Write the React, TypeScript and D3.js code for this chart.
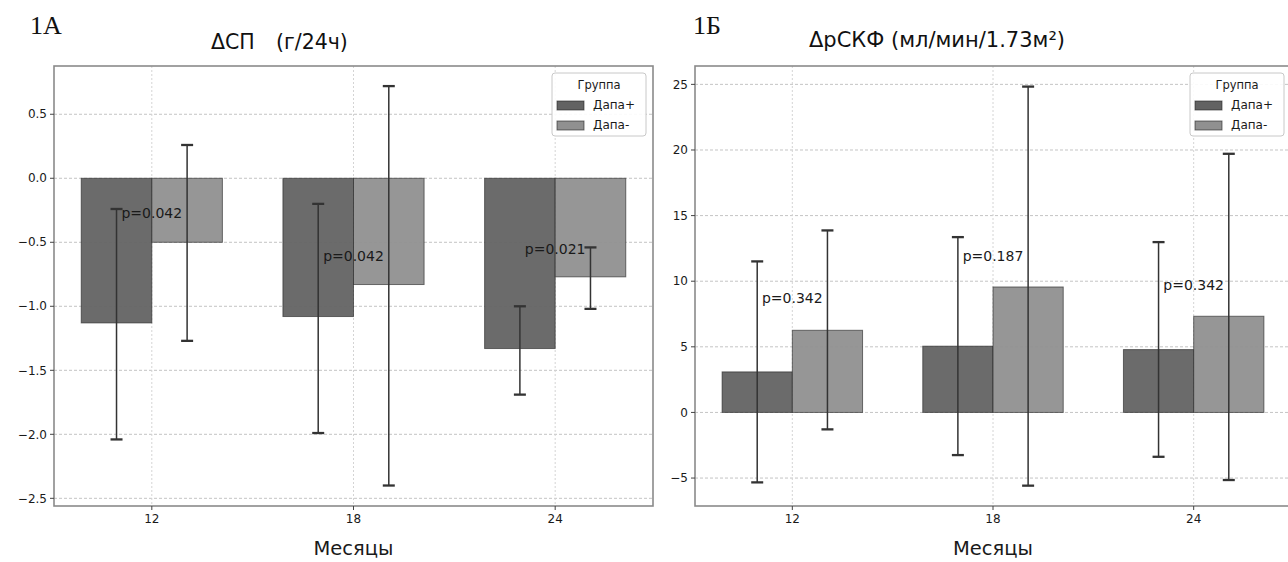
import React from "react";
import * as d3 from "d3";

// ---------- data ----------
const months = ["12", "18", "24"];
const groups = ["Дапа+", "Дапа-"];

// Panel A: ΔСП (г/24ч)
const spPlus = [-1.13, -1.08, -1.33];
const spPlusLow = [-2.04, -1.99, -1.69];
const spPlusHigh = [-0.24, -0.2, -1.0];
const spMinus = [-0.5, -0.83, -0.77];
const spMinusLow = [-1.27, -2.4, -1.02];
const spMinusHigh = [0.26, 0.72, -0.54];
const spPLabels = ["p=0.042", "p=0.042", "p=0.021"];
const spPLabelY = [-0.27, -0.61, -0.55];
const spTicks = [0.5, 0.0, -0.5, -1.0, -1.5, -2.0, -2.5];

// Panel B: ΔрСКФ (мл/мин/1.73м²)
const gfrPlus = [3.09, 5.05, 4.79];
const gfrPlusLow = [-5.33, -3.25, -3.38];
const gfrPlusHigh = [11.51, 13.36, 12.98];
const gfrMinus = [6.26, 9.56, 7.33];
const gfrMinusLow = [-1.29, -5.58, -5.15];
const gfrMinusHigh = [13.87, 24.83, 19.71];
const gfrPLabels = ["p=0.342", "p=0.187", "p=0.342"];
const gfrPLabelY = [8.68, 11.9, 9.69];
const gfrTicks = [25, 20, 15, 10, 5, 0, -5];

const FONT = "DejaVu Sans, Noto Sans, sans-serif";
const C_PLUS = "#636363";
const C_MINUS = "#909090";

type PanelProps = {
  x0: number;
  x1: number;
  yDomain: [number, number];
  ticks: number[];
  tickFmt: (v: number) => string;
  plus: number[];
  plusLow: number[];
  plusHigh: number[];
  minus: number[];
  minusLow: number[];
  minusHigh: number[];
  pLabels: string[];
  pY: number[];
  legendX: number;
};

const TOP = 66;
const BOTTOM = 506;
const BW = 0.35;

function Panel(p: PanelProps) {
  const x = d3.scaleLinear().domain([-0.485, 2.485]).range([p.x0, p.x1]);
  const y = d3.scaleLinear().domain(p.yDomain).range([BOTTOM, TOP]);
  const cx = (i: number) => x(i);
  const y0 = y(0);
  const bars = [
    { vals: p.plus, lo: p.plusLow, hi: p.plusHigh, off: -BW / 2, color: C_PLUS },
    { vals: p.minus, lo: p.minusLow, hi: p.minusHigh, off: BW / 2, color: C_MINUS },
  ];
  const bw = x(BW) - x(0);
  return (
    <g>
      {/* grid */}
      {p.ticks.map((t) => (
        <line key={"gy" + t} x1={p.x0} x2={p.x1} y1={y(t)} y2={y(t)} stroke="#c4c4c4" strokeWidth={1} strokeDasharray="3,2" />
      ))}
      {months.map((m, i) => (
        <line key={"gx" + m} x1={cx(i)} x2={cx(i)} y1={TOP} y2={BOTTOM} stroke="#d4d4d4" strokeWidth={1} strokeDasharray="2,2" />
      ))}
      {/* bars */}
      {bars.map((b, bi) =>
        b.vals.map((v, i) => {
          const xc = x(i + b.off);
          return (
            <rect
              key={"b" + bi + i}
              x={xc - bw / 2}
              y={Math.min(y(v), y0)}
              width={bw}
              height={Math.abs(y(v) - y0)}
              fill={b.color}
              fillOpacity={0.95}
              stroke="#222"
              strokeOpacity={0.6}
              strokeWidth={1}
            />
          );
        })
      )}
      {/* error bars */}
      {bars.map((b, bi) =>
        b.vals.map((v, i) => {
          const xc = x(i + b.off);
          return (
            <g key={"e" + bi + i} stroke="#333">
              <line x1={xc} x2={xc} y1={y(b.lo[i])} y2={y(b.hi[i])} strokeWidth={1.5} />
              <line x1={xc - 6} x2={xc + 6} y1={y(b.lo[i])} y2={y(b.lo[i])} strokeWidth={2.3} />
              <line x1={xc - 6} x2={xc + 6} y1={y(b.hi[i])} y2={y(b.hi[i])} strokeWidth={2.3} />
            </g>
          );
        })
      )}
      {/* p labels */}
      {p.pLabels.map((t, i) => (
        <text key={"p" + i} x={cx(i)} y={y(p.pY[i])} dy="0.35em" textAnchor="middle" fontFamily={FONT} fontSize={14} fill="#1a1a1a">
          {t}
        </text>
      ))}
      {/* frame */}
      <rect x={p.x0} y={TOP} width={p.x1 - p.x0} height={BOTTOM - TOP} fill="none" stroke="#8a8a8a" strokeWidth={1.6} />
      {/* y ticks */}
      {p.ticks.map((t) => (
        <g key={"ty" + t}>
          <line x1={p.x0 - 4} x2={p.x0} y1={y(t)} y2={y(t)} stroke="#444" strokeWidth={1} />
          <text x={p.x0 - 7} y={y(t)} dy="0.35em" textAnchor="end" fontFamily={FONT} fontSize={12} fill="#1a1a1a">
            {p.tickFmt(t)}
          </text>
        </g>
      ))}
      {/* x ticks */}
      {months.map((m, i) => (
        <g key={"tx" + m}>
          <line x1={cx(i)} x2={cx(i)} y1={BOTTOM} y2={BOTTOM + 4} stroke="#444" strokeWidth={1} />
          <text x={cx(i)} y={519} dy="0.35em" textAnchor="middle" fontFamily={FONT} fontSize={12} fill="#1a1a1a">
            {m}
          </text>
        </g>
      ))}
      <text x={x(1)} y={555} textAnchor="middle" fontFamily={FONT} fontSize={19.5} fill="#1a1a1a">
        Месяцы
      </text>
      {/* legend */}
      <g transform={`translate(${p.legendX},73)`}>
        <rect x={0} y={0} width={94} height={63} rx={3} fill="white" fillOpacity={0.9} stroke="#c8c8c8" strokeWidth={1} />
        <text x={47} y={12} dy="0.35em" textAnchor="middle" fontFamily={FONT} fontSize={11.5} fill="#1a1a1a">
          Группа
        </text>
        {groups.map((g, i) => (
          <g key={g} transform={`translate(0,${32 + i * 20})`}>
            <rect x={5} y={-4} width={27} height={9} fill={i === 0 ? C_PLUS : C_MINUS} stroke="#222" strokeOpacity={0.6} strokeWidth={1} />
            <text x={41} y={0} dy="0.35em" fontFamily={FONT} fontSize={12} fill="#1a1a1a">
              {g}
            </text>
          </g>
        ))}
      </g>
    </g>
  );
}

const fmtA = (v: number) => d3.format(".1f")(v).replace("-", "−");
const fmtB = (v: number) => d3.format("d")(v).replace("-", "−");

export default function App() {
  return (
    <svg width={1288} height={562} style={{ position: "absolute", left: 0, top: 0, background: "white" }}>
      <rect width={1288} height={562} fill="white" />
      <text x={30} y={34} fontFamily="Liberation Serif, DejaVu Serif, serif" fontSize={26} fill="#111">
        1А
      </text>
      <text x={211} y={49} fontFamily={FONT} fontSize={20.5} fill="#111">
        ΔСП
      </text>
      <text x={276} y={49} fontFamily={FONT} fontSize={20.5} fill="#111">
        (г/24ч)
      </text>
      <text x={693} y={34} fontFamily="Liberation Serif, DejaVu Serif, serif" fontSize={26} fill="#111">
        1Б
      </text>
      <text x={937} y={47} textAnchor="middle" fontFamily={FONT} fontSize={21} fill="#111">
        ΔрСКФ (мл/мин/1.73м²)
      </text>
      <Panel
        x0={54}
        x1={653}
        yDomain={[-2.56, 0.877]}
        ticks={spTicks}
        tickFmt={fmtA}
        plus={spPlus}
        plusLow={spPlusLow}
        plusHigh={spPlusHigh}
        minus={spMinus}
        minusLow={spMinusLow}
        minusHigh={spMinusHigh}
        pLabels={spPLabels}
        pY={spPLabelY}
        legendX={552}
      />
      <Panel
        x0={695}
        x1={1291}
        yDomain={[-7.13, 26.4]}
        ticks={gfrTicks}
        tickFmt={fmtB}
        plus={gfrPlus}
        plusLow={gfrPlusLow}
        plusHigh={gfrPlusHigh}
        minus={gfrMinus}
        minusLow={gfrMinusLow}
        minusHigh={gfrMinusHigh}
        pLabels={gfrPLabels}
        pY={gfrPLabelY}
        legendX={1190}
      />
    </svg>
  );
}
